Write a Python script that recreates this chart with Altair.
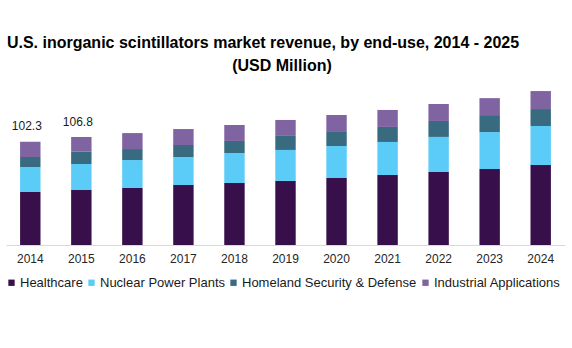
import altair as alt
import pandas as pd

years = ["2014", "2015", "2016", "2017", "2018", "2019", "2020", "2021", "2022", "2023", "2024"]
segments = ["Healthcare", "Nuclear Power Plants", "Homeland Security & Defense", "Industrial Applications"]
healthcare = [52.5, 54.5, 56.4, 59.4, 61.4, 63.4, 66.3, 69.3, 72.3, 75.2, 79.2]
nuclear = [24.8, 25.7, 27.7, 27.7, 29.7, 30.7, 31.7, 32.7, 34.7, 36.6, 38.6]
homeland = [9.9, 12.2, 10.9, 11.9, 11.9, 13.9, 13.9, 14.9, 15.8, 16.8, 16.8]
industrial = [15.1, 14.4, 15.8, 15.8, 15.8, 15.8, 16.8, 16.8, 16.8, 16.8, 17.8]
colors = ["#370F4A", "#5BCBF7", "#386B80", "#8064A2"]
label_years = ["2014", "2015"]
label_values = [102.3, 106.8]
title_line1 = "U.S. inorganic scintillators market revenue, by end-use, 2014 - 2025"
title_line2 = "(USD Million)"

rows = []
for series_idx, (name, vals) in enumerate(zip(segments, [healthcare, nuclear, homeland, industrial])):
    for y, v in zip(years, vals):
        rows.append({"year": y, "segment": name, "value": v, "order": series_idx})
df = pd.DataFrame(rows)
labels_df = pd.DataFrame({"year": label_years, "total": label_values,
                          "text": [f"{v:.1f}" for v in label_values]})

FONT = "Liberation Sans"
x_enc = alt.X("year:N", sort=years,
              scale=alt.Scale(paddingInner=0.6, paddingOuter=0.276),
              axis=alt.Axis(title=None, labelAngle=0, ticks=False, domainColor="#d9d9d9",
                            labelFont=FONT, labelFontSize=12, labelColor="#262626",
                            labelPadding=8, grid=False))
y_scale = alt.Scale(domain=[0, 148.5], nice=False, zero=True)

bars = alt.Chart(df).mark_bar().encode(
    x=x_enc,
    y=alt.Y("sum(value):Q", stack="zero", scale=y_scale, axis=None),
    color=alt.Color("segment:N", sort=segments,
                    scale=alt.Scale(domain=segments, range=colors),
                    legend=alt.Legend(title=None, orient="none", direction="horizontal",
                                      legendX=-1, legendY=181, symbolType="square",
                                      symbolSize=40, symbolStrokeWidth=0,
                                      labelFont=FONT, labelFontSize=13, labelColor="#1a1a1a",
                                      labelOffset=2, columnPadding=2, padding=0,
                                      labelLimit=400)),
    order=alt.Order("order:Q", sort="ascending"),
)

texts = alt.Chart(labels_df).mark_text(font=FONT, fontSize=12, color="#1a1a1a",
                                       dx=-3.5, dy=-11.5, baseline="alphabetic", align="center").encode(
    x=alt.X("year:N", sort=years),
    y=alt.Y("total:Q", scale=y_scale),
    text="text:N",
)

subtitle = alt.Chart(pd.DataFrame({"t": [title_line2]})).mark_text(
    font=FONT, fontSize=16, fontWeight="bold", color="#000000",
    align="center", baseline="middle").encode(
    x=alt.value(276), y=alt.value(-29), text="t:N")

chart = alt.layer(bars, texts, subtitle).properties(
    width=559, height=150,
    autosize=alt.AutoSizeParams(type="none"),
    padding={"left": 6, "top": 95, "right": 7, "bottom": 103},
    title=alt.TitleParams(
        text=title_line1,
        font=FONT, fontSize=16, fontWeight="bold", color="#000000",
        anchor="middle", dx=-22.5, offset=7),
).configure_view(stroke=None)

chart.save("out.html", embed_options={"renderer": "svg", "actions": False})
